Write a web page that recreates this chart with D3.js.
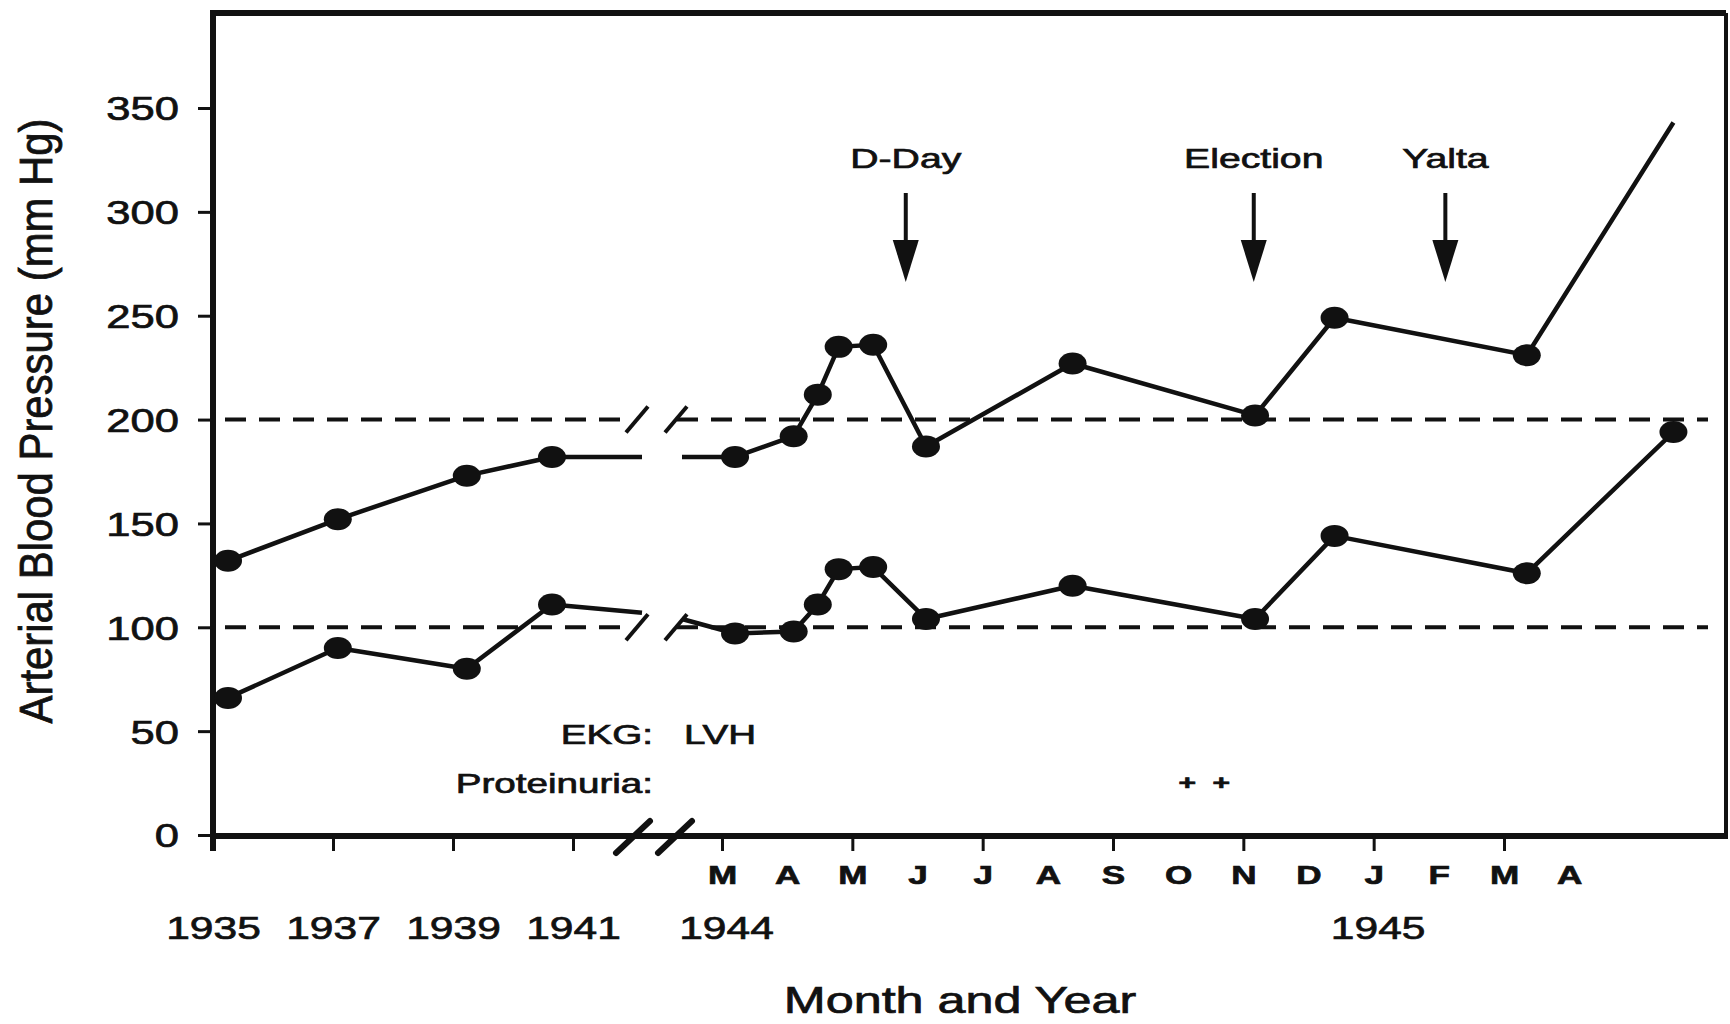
<!DOCTYPE html>
<html>
<head>
<meta charset="utf-8">
<script src="https://cdn.jsdelivr.net/npm/d3@7"></script>
<style>
  body { margin: 0; background: #fff; }
  svg text { font-family: "Liberation Sans", Arial, Helvetica, sans-serif; fill: #111; stroke: #111; stroke-width: 0.7px; }
</style>
</head>
<body>
<div id="chart"></div>
<script>
// early readings (decimal years)
const earlyYears = [1935.25, 1937.08, 1939.23, 1940.65];
const earlySystolic = [132, 152, 173, 182];
const earlyDiastolic = [66, 90, 80, 111];

// where each line runs into the axis break: [left side, right side]
const systolicCut = [182, 182];
const diastolicCut = [107, 104];

// 1944-45 readings, months counted from Jan 1944 = 0
const lateMonths = [2.2, 3.1, 3.47, 3.79, 4.32, 5.13, 7.38, 10.18, 11.4, 14.35, 16.6];
const lateSystolic = [182, 192, 212, 235, 236, 187, 227, 202, 249, 231, 343];
const lateDiastolic = [97, 98, 111, 128, 129, 104, 120, 104, 144, 126, 194];

// axes
const yTicks = [0, 50, 100, 150, 200, 250, 300, 350];
const yearTicks = [1935, 1937, 1939, 1941];
const monthTicks = [2, 4, 6, 8, 10, 12, 14];
const letterMonths = [2, 3, 4, 5, 6, 7, 8, 9, 10, 11, 12, 13, 14, 15];
const monthLetters = ["M", "A", "M", "J", "J", "A", "S", "O", "N", "D", "J", "F", "M", "A"];
const lateYearMonths = [2, 12];
const lateYearLabels = ["1944", "1945"];

// reference lines
const normalLevels = [200, 100];

// events
const eventNames = ["D-Day", "Election", "Yalta"];
const eventMonths = [4.82, 10.16, 13.1];
const proteinuriaMonth = 9.4;
const proteinuriaMark = "+  +";

const W = 1730, H = 1024;
const plotLeft = 213, plotRight = 1726, plotTop = 13, plotBottom = 836;
const cutL = 642, cutR = 682;

let svg = d3.select("#chart")
            .append("svg")
            .attr("width", W)
            .attr("height", H)

let y = d3.scaleLinear([0, 350], [835, 108]);
let xEarly = d3.scaleLinear([1935, 1941], [plotLeft, 573]);
let xLate = d3.scaleLinear([2, 14], [722, 1504]);

function label(txt, x, yy, size, sx, anchor, weight) {
  return svg.append("text")
            .attr("transform", `translate(${x},${yy}) scale(${sx},1)`)
            .attr("text-anchor", anchor)
            .attr("font-size", size)
            .attr("font-weight", weight || "normal")
            .text(txt);
}

function styleAxis(g) {
  g.attr("font-family", null).attr("font-size", null);
  g.select(".domain").remove();
  g.selectAll(".tick line").attr("stroke", "#111").attr("stroke-width", 3);
}

// frame
svg.append("line").attr("x1", plotLeft).attr("x2", plotRight).attr("y1", plotTop).attr("y2", plotTop)
   .attr("stroke", "#111").attr("stroke-width", 6);
svg.append("line").attr("x1", plotRight).attr("x2", plotRight).attr("y1", plotTop).attr("y2", plotBottom)
   .attr("stroke", "#111").attr("stroke-width", 4);
svg.append("line").attr("x1", plotLeft).attr("x2", plotLeft).attr("y1", plotTop - 3).attr("y2", plotBottom + 15)
   .attr("stroke", "#111").attr("stroke-width", 6);
svg.append("line").attr("x1", plotLeft).attr("x2", plotRight + 2).attr("y1", plotBottom).attr("y2", plotBottom)
   .attr("stroke", "#111").attr("stroke-width", 6);

// y axis
let yAxis = svg.append("g")
               .attr("transform", `translate(${plotLeft},0)`)
               .call(d3.axisLeft(y).tickValues(yTicks).tickSize(15).tickSizeOuter(0));
styleAxis(yAxis);
yAxis.selectAll(".tick text")
     .attr("x", 0).attr("dy", "0.36em")
     .attr("font-size", 33)
     .attr("transform", "translate(-34,0) scale(1.32,1)");

// x axis, early years
let xAxis1 = svg.append("g")
                .attr("transform", `translate(0,${plotBottom})`)
                .call(d3.axisBottom(xEarly).tickValues(yearTicks).tickSize(15).tickFormat(d3.format("d")));
styleAxis(xAxis1);
xAxis1.selectAll(".tick text")
      .attr("y", 0).attr("dy", null)
      .attr("font-size", 32)
      .attr("transform", "translate(0,103) scale(1.33,1)");

// x axis, 1944-45 months
let xAxis2 = svg.append("g")
                .attr("transform", `translate(0,${plotBottom})`)
                .call(d3.axisBottom(xLate).tickValues(monthTicks).tickSize(15).tickFormat(""));
styleAxis(xAxis2);

let letters = svg.append("g")
                 .attr("transform", `translate(0,${plotBottom})`)
                 .call(d3.axisBottom(xLate).tickValues(letterMonths).tickSize(0)
                         .tickFormat((d, i) => monthLetters[i]));
styleAxis(letters);
letters.selectAll(".tick line").remove();
letters.selectAll(".tick text")
       .attr("y", 0).attr("dy", null)
       .attr("font-size", 26).attr("font-weight", "bold")
       .attr("transform", "translate(0,48) scale(1.35,1)");

let years2 = svg.append("g")
                .attr("transform", `translate(0,${plotBottom})`)
                .call(d3.axisBottom(xLate).tickValues(lateYearMonths).tickSize(0)
                        .tickFormat((d, i) => lateYearLabels[i]));
styleAxis(years2);
years2.selectAll(".tick line").remove();
years2.selectAll(".tick text")
      .attr("y", 0).attr("dy", null)
      .attr("font-size", 32)
      .attr("transform", "translate(4,103) scale(1.33,1)");

// axis break marks
for (let cx of [633, 675]) {
  svg.append("line")
     .attr("x1", cx - 17).attr("y1", plotBottom + 17)
     .attr("x2", cx + 17).attr("y2", plotBottom - 15)
     .attr("stroke", "#111").attr("stroke-width", 6).attr("stroke-linecap", "round");
}

// normal limits, dashed, broken at the gap
for (let level of normalLevels) {
  const ly = y(level);
  for (let seg of [[225, 628], [677, 1708]]) {
    svg.append("line")
       .attr("x1", seg[0]).attr("x2", seg[1])
       .attr("y1", ly).attr("y2", ly)
       .attr("stroke", "#111").attr("stroke-width", 4)
       .attr("stroke-dasharray", "21 13");
  }
  for (let cx of [637, 676]) {
    svg.append("line")
       .attr("x1", cx - 11).attr("y1", ly + 13)
       .attr("x2", cx + 11).attr("y2", ly - 13)
       .attr("stroke", "#111").attr("stroke-width", 4);
  }
}

// blood pressure lines
const lineMaker = d3.line().x(d => d.x).y(d => y(d.v));

function series(early, cut, late) {
  const a = early.map((v, i) => ({ x: xEarly(earlyYears[i]), v: v }));
  a.push({ x: cutL, v: cut[0] });
  const b = [{ x: cutR, v: cut[1] }].concat(late.map((v, i) => ({ x: xLate(lateMonths[i]), v: v })));
  return [a, b];
}

const sys = series(earlySystolic, systolicCut, lateSystolic);
const dia = series(earlyDiastolic, diastolicCut, lateDiastolic);

for (let part of sys.concat(dia)) {
  svg.append("path")
     .datum(part)
     .attr("d", lineMaker)
     .attr("fill", "none")
     .attr("stroke", "#111")
     .attr("stroke-width", 4.5)
     .attr("stroke-linejoin", "round");
}

// dots (the last systolic reading runs off without a dot)
const dots = sys[0].slice(0, -1)
  .concat(sys[1].slice(1, -1))
  .concat(dia[0].slice(0, -1))
  .concat(dia[1].slice(1));

svg.selectAll("ellipse.dot")
   .data(dots)
   .enter()
   .append("ellipse")
   .attr("class", "dot")
   .attr("cx", d => d.x)
   .attr("cy", d => y(d.v))
   .attr("rx", 14)
   .attr("ry", 11)
   .attr("fill", "#111");

// event arrows
eventNames.forEach((name, i) => {
  const ex = xLate(eventMonths[i]);
  label(name, ex, 168, 28, 1.4, "middle");
  svg.append("line")
     .attr("x1", ex).attr("x2", ex).attr("y1", 193).attr("y2", 242)
     .attr("stroke", "#111").attr("stroke-width", 4);
  svg.append("path")
     .attr("d", `M${ex - 13},240 L${ex + 13},240 L${ex},282 Z`)
     .attr("fill", "#111");
});

// clinical notes
label("EKG:", 653, 744, 27, 1.43, "end");
label("LVH", 684, 744, 27, 1.43, "start");
label("Proteinuria:", 653, 793, 27, 1.43, "end");
label(proteinuriaMark, xLate(proteinuriaMonth), 790, 20, 1.5, "middle", "bold")
  .style("white-space", "pre");

// axis titles
label("Month and Year", 960, 1013, 37, 1.36, "middle");

svg.append("text")
   .attr("transform", "translate(52,421) rotate(-90) scale(1,1.15)")
   .attr("text-anchor", "middle")
   .attr("font-size", 40)
   .attr("textLength", 605)
   .attr("lengthAdjust", "spacingAndGlyphs")
   .text("Arterial Blood Pressure (mm Hg)");
</script>
</body>
</html>
